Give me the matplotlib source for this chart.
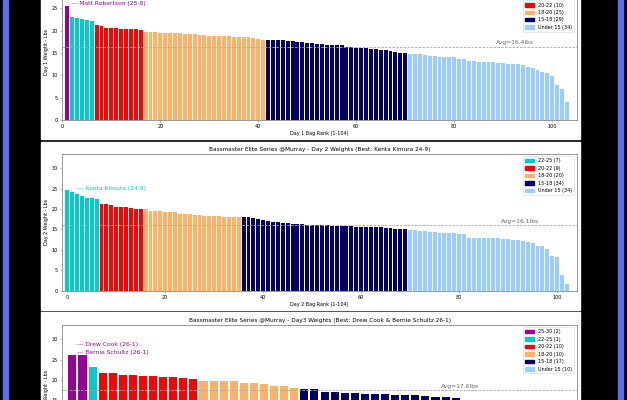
"""
Bassmaster Elite Series @Murray - day by day bag weights, three stacked panels
shown on a black page with blue side bars (as in the screenshot).
"""

import numpy as np
import matplotlib
matplotlib.use("Agg")
import matplotlib.pyplot as plt
import matplotlib.patches as mpatches

# ----------------------------- DATA -----------------------------
# bag weights in lbs, sorted heaviest first
DAY1_WEIGHTS = [
    25.5,
    23.0, 22.75, 22.6, 22.4, 22.1,
    21.3, 21.0, 20.6, 20.6, 20.5, 20.3, 20.3, 20.3, 20.3, 20.1,
    19.8, 19.8, 19.7, 19.5, 19.5, 19.4, 19.4, 19.4, 19.3, 19.2, 19.2, 19.1,
    18.95, 18.9, 18.85, 18.8, 18.8, 18.7, 18.6, 18.6, 18.5, 18.5, 18.4, 18.05, 18.0,
    17.85, 17.85, 17.85, 17.8, 17.6, 17.6, 17.4, 17.4, 17.15, 17.15, 17.1, 17.05,
    16.9, 16.8, 16.7, 16.7, 16.45, 16.45, 16.1, 16.1, 16.1, 15.9, 15.8, 15.6,
    15.6, 15.4, 15.3, 15.1, 15.1,
    14.85, 14.85, 14.85, 14.45, 14.35, 14.3, 14.0, 14.0, 14.0, 14.0, 13.75, 13.6,
    13.3, 13.1, 13.0, 13.0, 13.0, 12.9, 12.8, 12.7, 12.6, 12.6, 12.6, 12.2, 11.85,
    11.55, 11.2, 10.8, 10.45, 9.9, 7.9, 6.85, 3.95, 0.0,
]
DAY2_WEIGHTS = [
    24.56, 24.2, 23.6, 23.3, 22.65, 22.6, 22.4,
    21.3, 21.2, 20.9, 20.5, 20.5, 20.5, 20.2, 20.1, 20.1,
    19.95, 19.55, 19.55, 19.5, 19.3, 19.3, 19.3, 18.9, 18.75, 18.75, 18.55, 18.55,
    18.4, 18.4, 18.3, 18.3, 18.15, 18.05, 18.05, 18.05,
    17.95, 17.95, 17.9, 17.5, 17.4, 17.1, 16.85, 16.85, 16.5, 16.5, 16.4, 16.35,
    16.3, 16.2, 16.2, 16.15, 16.1, 16.05, 15.95, 15.9, 15.85, 15.8, 15.75, 15.7,
    15.65, 15.6, 15.6, 15.6, 15.55, 15.4, 15.35, 15.1, 15.05, 15.05,
    14.9, 14.8, 14.65, 14.55, 14.4, 14.3, 14.2, 14.15, 14.05, 14.05, 13.9, 13.9,
    13.0, 13.0, 13.0, 12.9, 12.9, 12.9, 12.85, 12.65, 12.6, 12.45, 12.35, 12.1,
    11.95, 11.7, 11.05, 10.95, 10.3, 8.5, 8.2, 3.85, 1.55, 0.0,
]
DAY3_WEIGHTS = [
    26.06, 26.06,
    23.25,
    21.8, 21.65, 21.35, 21.2, 21.1, 21.0, 20.85, 20.85, 20.55, 20.35,
    19.75, 19.75, 19.75, 19.75, 19.35, 19.3, 19.05, 18.5, 18.5, 18.15,
    17.85, 17.8, 17.1, 17.1, 16.75, 16.75, 16.6, 16.6, 16.6, 16.3, 16.3, 16.3,
    16.1, 15.95, 15.95, 15.7, 15.1,
    14.9, 14.7, 14.4, 14.0, 13.5, 12.9, 12.2, 11.0, 9.5, 4.1,
]

DAY_TITLES = [
    "Bassmaster Elite Series @Murray - Day 1 Weights (Best: Matt Robertson 25-8)",
    "Bassmaster Elite Series @Murray - Day 2 Weights (Best: Kenta Kimura 24-9)",
    "Bassmaster Elite Series @Murray - Day3 Weights (Best: Drew Cook & Bernie Schultz 26-1)",
]
DAY_XLABELS = ["Day 1 Bag Rank (1-104)", "Day 2 Bag Rank (1-104)", "Day 3 Bag Rank (1-50)"]
DAY_YLABELS = ["Day 1 Weight - Lbs", "Day 2 Weight - Lbs", "Day 3 Weight - Lbs"]
DAY_BEST_NAMES = [["Matt Robertson"], ["Kenta Kimura"], ["Drew Cook", "Bernie Schultz"]]
DAY_BEST_LBOZ = ["25-8", "24-9", "26-1"]

BIN_LABELS = ["25-30", "22-25", "20-22", "18-20", "15-18", "Under 15"]
BIN_LOWER = [25, 22, 20, 18, 15, 0]
BIN_COLORS = ["#990099", "#00cccc", "#ff0000", "#ffb266", "#000066", "#99ccff"]

# ----------------------------- LAYOUT -----------------------------
W, H = 627, 400                       # output size in pixels
BIG, TITLE, SMALL = 4.3, 4.15, 3.5    # font sizes (pt)
AX_LEFT, AX_RIGHT, AX_H = 62.3, 576.7, 136.7
AX_BOTTOMS = [120.0, 290.7, 461.7]    # pixel rows of the x axes (from top)
PANEL_TOPS = [-29.0, 141.7, 312.3]
PANEL_H = 168.3
YTOPS = [30.6, 33.5, 33.5]
FIRST_RANK = [1, 0, 0]
NAME_X = [1.8, 2.0, 0.45]
BLUE = "#5a6cf0"
GREY = "#888888"


def bin_of(w):
    for k, lo in enumerate(BIN_LOWER):
        if w >= lo:
            return k
    return len(BIN_LOWER) - 1


def draw_day(ax, weights, d):
    w = np.array(weights)
    x = np.arange(len(w)) + FIRST_RANK[d]
    bins = [bin_of(v) for v in w]
    ax.bar(x, w, width=0.8, color=[BIN_COLORS[b] for b in bins])

    avg = w.mean()
    ax.axhline(avg, color="#aaaaaa", ls=(0, (3, 1.5)), lw=0.6)
    ax.text(len(w) - 11.6, avg + 0.3, f"Avg={avg:.1f}lbs", ha="center",
            va="bottom", fontsize=BIG, color="#666666")

    # best bag(s) of the day
    names = DAY_BEST_NAMES[d]
    col = BIN_COLORS[bins[0]]
    for j, name in enumerate(names):
        ax.text(NAME_X[d], w[0] + 0.6 + 2.1 * (len(names) - 1 - j),
                f"--- {name} ({DAY_BEST_LBOZ[d]})", ha="left", va="center",
                fontsize=BIG, color=col)

    # legend only for the classes that occur
    handles = []
    for k, lab in enumerate(BIN_LABELS):
        n = bins.count(k)
        if n:
            handles.append(mpatches.Patch(color=BIN_COLORS[k], label=f"{lab} ({n})"))
    leg = ax.legend(handles=handles, loc="upper right", fontsize=SMALL,
                    frameon=True, fancybox=True)
    leg.get_frame().set_linewidth(0.4)
    leg.get_frame().set_edgecolor("#cccccc")

    ax.set_xlim(x[0] - 1, x[-1] + 1)
    ax.set_ylim(0, YTOPS[d])
    ax.set_title(DAY_TITLES[d], fontsize=TITLE, pad=2)
    ax.set_xlabel(DAY_XLABELS[d], fontsize=SMALL, labelpad=1.5)
    ax.set_ylabel(DAY_YLABELS[d], fontsize=SMALL, labelpad=2)
    ax.tick_params(labelsize=SMALL, length=1.5, width=0.4, pad=1.5, color=GREY)
    for sp in ax.spines.values():
        sp.set_color(GREY)
        sp.set_linewidth(0.6)


def main():
    fig = plt.figure(figsize=(W / 100, H / 100), dpi=100, facecolor="black")

    # blue side bars of the page
    for x0 in (3.3, 618.3):
        fig.add_artist(mpatches.Rectangle((x0 / W, 0), 5 / W, 1, transform=fig.transFigure,
                                          color=BLUE, zorder=-2))
    # white panel behind each chart
    for top in PANEL_TOPS:
        fig.add_artist(mpatches.Rectangle((41 / W, 1 - (top + PANEL_H) / H), 539 / W,
                                          PANEL_H / H, transform=fig.transFigure,
                                          color="white", zorder=-1))

    for d, weights in enumerate([DAY1_WEIGHTS, DAY2_WEIGHTS, DAY3_WEIGHTS]):
        ax = fig.add_axes([AX_LEFT / W, 1 - AX_BOTTOMS[d] / H,
                           (AX_RIGHT - AX_LEFT) / W, AX_H / H])
        draw_day(ax, weights, d)

    fig.savefig("out.png", dpi=100, facecolor="black")
    plt.close(fig)


if __name__ == "__main__":
    main()
